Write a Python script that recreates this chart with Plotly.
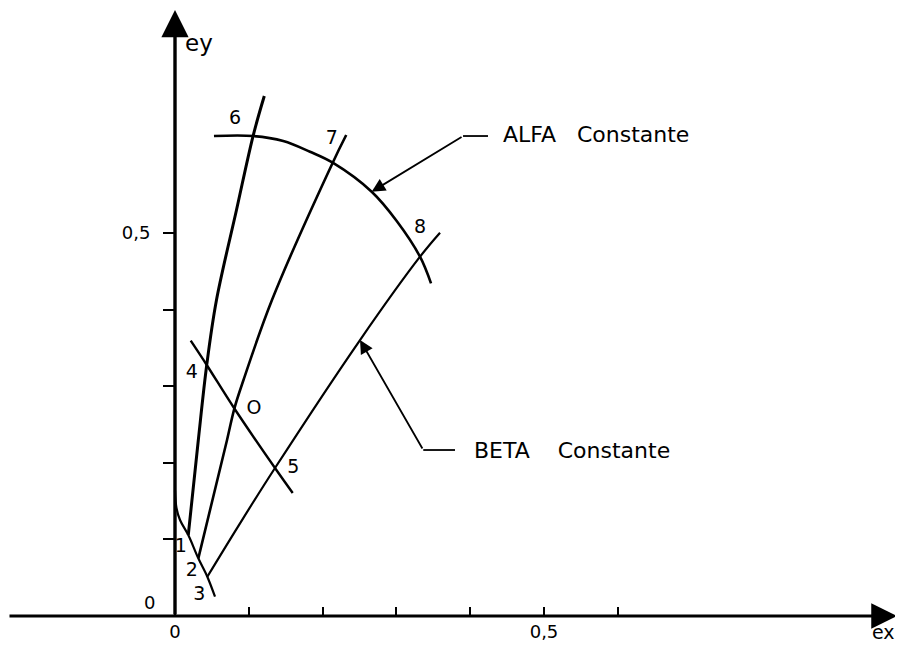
import plotly.graph_objects as go

# ---- data ----
# curve through points 1 - 4 - 6
six_x = [0.018, 0.0316, 0.043, 0.0562, 0.0833, 0.1061, 0.121]
six_y = [0.1057, 0.2298, 0.3277, 0.4125, 0.53, 0.6279, 0.6789]
# curve through points 2 - O - 7
seven_x = [0.0316, 0.0705, 0.0806, 0.0928, 0.1314, 0.2137, 0.2320]
seven_y = [0.0753, 0.2298, 0.2715, 0.3081, 0.4125, 0.5918, 0.6279]
# BETA constant line through points 3 - 5 - 8
eight_x = [0.0438, 0.0881, 0.1355, 0.2507, 0.332, 0.3591]
eight_y = [0.0513, 0.1210, 0.1932, 0.3603, 0.4691, 0.5004]
# line through 4 - O - 5
mid_x = [0.0213, 0.043, 0.080, 0.1355, 0.1595]
mid_y = [0.3594, 0.3277, 0.2715, 0.1932, 0.1606]
# line through 1 - 2 - 3
low_x = [0.0, 0.002, 0.0068, 0.018, 0.0316, 0.0438, 0.0542]
low_y = [0.164, 0.1410, 0.1253, 0.1057, 0.0753, 0.0513, 0.0252]
# ALFA constant arc through 6 - 7 - 8
arc_x = [0.0528, 0.1061, 0.1467, 0.1829, 0.2137, 0.2665, 0.3004, 0.332, 0.3469]
arc_y = [0.6266, 0.6266, 0.6201, 0.6061, 0.5918, 0.5539, 0.5157, 0.4691, 0.4343]

# point labels
point_labels = ["1", "2", "3", "4", "O", "5", "6", "7", "8"]
label_x = [0.0077, 0.0226, 0.033, 0.0226, 0.107, 0.1603, 0.0813, 0.2123, 0.332]
label_y = [0.0897, 0.0578, 0.0274, 0.3168, 0.2698, 0.1928, 0.6488, 0.6223, 0.5061]

# axis ticks
x_tickvals = [0, 0.1, 0.2, 0.3, 0.4, 0.5, 0.6]
x_ticktext = ["0", "", "", "", "", "0,5", ""]
y_tickvals = [0.1, 0.2, 0.3, 0.4, 0.5]
y_ticktext = ["", "", "", "", "0,5"]

# callouts: (target on curve, bend, end of horizontal, text)
alfa_target = (0.2665, 0.5539)
alfa_bend = (0.3903, 0.6266)
alfa_end = (0.4241, 0.6266)
alfa_text = "ALFA\u00a0\u00a0\u00a0Constante"
beta_target = (0.2507, 0.3603)
beta_bend = (0.3364, 0.2167)
beta_end = (0.3794, 0.2167)
beta_text = "BETA\u00a0\u00a0\u00a0\u00a0Constante"

FONT = "DejaVu Sans"
BLACK = "#000000"

# page body has an 8px margin: the figure covers the window from (8, 8)
W, H = 895, 639
X_RANGE = [(8 - 175) / 738, (903 - 175) / 738]
Y_RANGE = [(616 - 647) / 766, (616 - 8) / 766]

fig = go.Figure()

def curve(x, y, w):
    fig.add_trace(go.Scatter(x=x, y=y, mode="lines",
                             line=dict(color=BLACK, width=w, shape="spline", smoothing=1.0),
                             hoverinfo="skip", showlegend=False))

curve(six_x, six_y, 3)
curve(seven_x, seven_y, 2.6)
curve(eight_x, eight_y, 2.2)
curve(mid_x, mid_y, 2.4)
curve(low_x, low_y, 2.2)
curve(arc_x, arc_y, 2.6)

# horizontal parts of callout leaders
for b, e in [(alfa_bend, alfa_end), (beta_bend, beta_end)]:
    fig.add_trace(go.Scatter(x=[b[0], e[0]], y=[b[1], e[1]], mode="lines",
                             line=dict(color=BLACK, width=1.8),
                             hoverinfo="skip", showlegend=False))

# point labels
fig.add_trace(go.Scatter(x=label_x, y=label_y, mode="text", text=point_labels,
                         textfont=dict(family=FONT, size=19, color=BLACK),
                         hoverinfo="skip", showlegend=False))

annotations = []
# axes drawn as arrows
x_min, x_max = -0.2263, 0.978
y_max = 0.791
annotations.append(dict(x=x_max, y=0, ax=x_min, ay=0, xref="x", yref="y",
                        axref="x", ayref="y", text="", showarrow=True,
                        arrowhead=2, arrowsize=1.7, arrowwidth=3, arrowcolor=BLACK))
annotations.append(dict(x=0, y=y_max, ax=0, ay=0, xref="x", yref="y",
                        axref="x", ayref="y", text="", showarrow=True,
                        arrowhead=2, arrowsize=1.6, arrowwidth=3.4, arrowcolor=BLACK))
# callout arrows
for t, b in [(alfa_target, alfa_bend), (beta_target, beta_bend)]:
    annotations.append(dict(x=t[0], y=t[1], ax=b[0], ay=b[1], xref="x", yref="y",
                            axref="x", ayref="y", text="", showarrow=True,
                            arrowhead=2, arrowsize=1.5, arrowwidth=1.8, arrowcolor=BLACK))
# callout texts
annotations.append(dict(x=0.4417, y=0.628, xref="x", yref="y", text=alfa_text,
                        showarrow=False, xanchor="left", yanchor="middle",
                        font=dict(family=FONT, size=22, color=BLACK)))
annotations.append(dict(x=0.402, y=0.2167, xref="x", yref="y", text=beta_text,
                        showarrow=False, xanchor="left", yanchor="middle",
                        font=dict(family=FONT, size=22, color=BLACK)))
# axis names and origin label
annotations.append(dict(x=0.960, y=-0.021, xref="x", yref="y", text="ex",
                        showarrow=False, font=dict(family=FONT, size=19, color=BLACK)))
annotations.append(dict(x=0.0325, y=0.748, xref="x", yref="y", text="ey",
                        showarrow=False, font=dict(family=FONT, size=23, color=BLACK)))
annotations.append(dict(x=-0.0339, y=0.017, xref="x", yref="y", text="0",
                        showarrow=False, font=dict(family=FONT, size=18, color=BLACK)))

fig.update_layout(
    width=W, height=H, autosize=False,
    margin=dict(l=0, r=0, t=0, b=0),
    paper_bgcolor="white", plot_bgcolor="white",
    showlegend=False,
    annotations=annotations,
    xaxis=dict(range=X_RANGE, anchor="free", position=(647 - 616) / H,
               showgrid=False, zeroline=False, showline=False,
               ticks="inside", ticklen=9, tickwidth=2, tickcolor=BLACK,
               tickvals=x_tickvals, ticktext=x_ticktext, ticklabelstandoff=3,
               tickfont=dict(family=FONT, size=18, color=BLACK), fixedrange=True),
    yaxis=dict(range=Y_RANGE, anchor="free", position=(175 - 8) / W,
               showgrid=False, zeroline=False, showline=False,
               ticks="outside", ticklen=12, tickwidth=2, tickcolor=BLACK,
               tickvals=y_tickvals, ticktext=y_ticktext, ticklabelstandoff=9,
               tickfont=dict(family=FONT, size=18, color=BLACK), fixedrange=True),
)

fig.write_html("out.html")
